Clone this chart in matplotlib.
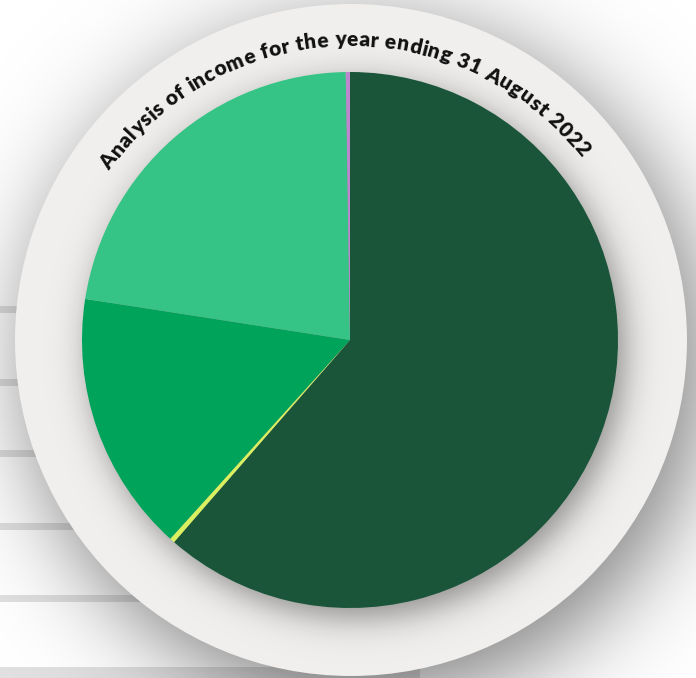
import numpy as np
import matplotlib
matplotlib.use("Agg")
import matplotlib.pyplot as plt
from matplotlib.patches import Circle, Rectangle
from matplotlib.font_manager import FontProperties, findfont
from matplotlib.ft2font import FT2Font

# income split, clockwise from 12 o'clock (percent)
categories = ["Grants", "Other income", "Donations", "Charitable activities", "Investments"]
shares = [61.4, 0.3, 15.75, 22.3, 0.25]
colors = ["#1a5539", "#d9f05f", "#00a35a", "#36c486", "#bf86d0"]
title = "Analysis of income for the year ending 31 August 2022"

W, H = 696, 678
cx, cy = 350, 338          # pie centre (pixels, y up)
r_pie = 268
dcx, dcy, r_disc = 351, 338, 336

fig = plt.figure(figsize=(W / 100, H / 100), dpi=100)
fig.patch.set_facecolor("white")
ax = fig.add_axes([0, 0, 1, 1])

# faint table rows behind the disc
for yy in [309, 382, 453, 526, 598]:
    ax.add_patch(Rectangle((0, H - yy - 3.5), 360, 7, color="#e0e0e0", lw=0, zorder=0))
ax.add_patch(Rectangle((0, 0), 420, 11, color="#e0e0e0", lw=0, zorder=0))

# soft drop shadows built as rgba images
X, Y = np.meshgrid(np.arange(W) + 0.5, np.arange(H) + 0.5)

d = np.hypot(X - (dcx + 14), Y - (dcy - 22))
a = 0.5 / (1 + np.exp((d - r_disc) / 28))
img = np.zeros((H, W, 4))
img[..., 3] = a
ax.imshow(img, extent=(0, W, 0, H), origin="lower", zorder=1, interpolation="bilinear")

ax.add_patch(Circle((dcx, dcy), r_disc, color="#f0efed", lw=0, zorder=2))

d2 = np.hypot(X - (cx + 7), Y - (cy - 10))
a2 = 0.4 / (1 + np.exp((d2 - r_pie) / 10))
inside = np.hypot(X - dcx, Y - dcy) < r_disc - 1
img2 = np.zeros((H, W, 4))
img2[..., 3] = a2 * inside
ax.imshow(img2, extent=(0, W, 0, H), origin="lower", zorder=3, interpolation="bilinear")

wedges, _ = ax.pie(shares, colors=colors, startangle=90, counterclock=False,
                   radius=r_pie, center=(cx, cy), wedgeprops=dict(linewidth=0))
for w in wedges:
    w.set_zorder(4)

# title bent around the top of the disc
fs = 15
fp = FontProperties(family="Lato", weight="heavy", size=fs)
font = FT2Font(findfont(fp))
font.set_size(fs, 100)
adv = np.array([font.load_char(ord(ch)).linearHoriAdvance / 65536 for ch in title])
r_base = 294
r_eff = r_base + 6
theta_start, theta_end = np.radians(145.0), np.radians(38.2)
# spread the letters so the line runs between the two end angles
adv = adv * ((theta_start - theta_end) * r_eff) / adv.sum()
starts = np.concatenate([[0], np.cumsum(adv)[:-1]])
mids = starts + adv / 2
for ch, m in zip(title, mids):
    th = theta_start - m / r_eff
    ax.text(cx + r_base * np.cos(th), cy + r_base * np.sin(th), ch,
            fontproperties=fp, color="#111111", ha="center", va="baseline",
            rotation=np.degrees(th) - 90, rotation_mode="anchor", zorder=5)

ax.set_xlim(0, W)
ax.set_ylim(0, H)
ax.set_aspect("auto")
ax.axis("off")
fig.savefig("out.png", dpi=100)
